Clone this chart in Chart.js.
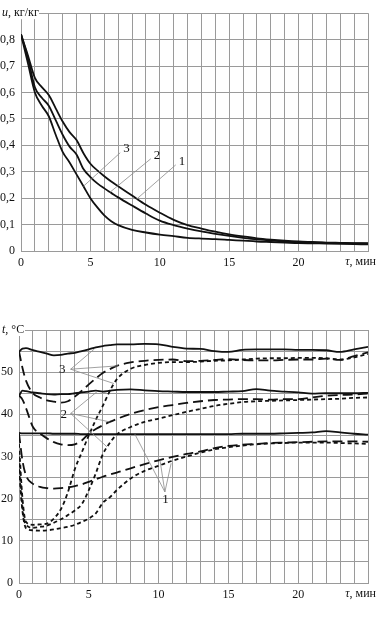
<!DOCTYPE html>
<html>
<head>
<meta charset="utf-8">
<script src="https://cdn.jsdelivr.net/npm/chart.js@4.4.1/dist/chart.umd.min.js"></script>
<style>
  body { margin: 0; background: #fff; }
  .box { position: absolute; left: 0; width: 377px; }
</style>
</head>
<body>
<div class="box" style="top:0;height:280px"><canvas id="uChart" width="377" height="280"></canvas></div>
<div class="box" style="top:300px;height:318px"><canvas id="tChart" width="377" height="318"></canvas></div>
<script>
// drying curves u(τ), кг/кг
const tauU = [0, 0.5, 1, 1.5, 2, 2.5, 3, 3.5, 4, 4.5, 5, 5.5, 6, 6.5, 7, 8, 9, 10, 11, 12, 13, 14, 15, 16, 17, 18, 19, 20, 21, 22, 23, 24, 25];
const u1 = [0.82, 0.74, 0.655, 0.62, 0.59, 0.54, 0.49, 0.45, 0.42, 0.37, 0.33, 0.305, 0.283, 0.263, 0.245, 0.21, 0.175, 0.145, 0.118, 0.098, 0.085, 0.073, 0.063, 0.055, 0.048, 0.043, 0.039, 0.036, 0.034, 0.032, 0.031, 0.03, 0.03];
const u2 = [0.82, 0.73, 0.62, 0.58, 0.55, 0.495, 0.44, 0.395, 0.365, 0.31, 0.28, 0.256, 0.237, 0.22, 0.203, 0.172, 0.142, 0.115, 0.098, 0.085, 0.074, 0.065, 0.057, 0.05, 0.044, 0.04, 0.036, 0.034, 0.032, 0.031, 0.03, 0.029, 0.028];
const u3 = [0.82, 0.71, 0.6, 0.55, 0.51, 0.44, 0.375, 0.335, 0.29, 0.245, 0.2, 0.165, 0.135, 0.113, 0.098, 0.08, 0.07, 0.062, 0.056, 0.05, 0.047, 0.045, 0.042, 0.039, 0.036, 0.034, 0.032, 0.03, 0.029, 0.028, 0.027, 0.026, 0.025];

// temperatures t(τ), °C
const tauT = [0, 0.25, 0.5, 1, 1.5, 2, 2.5, 3, 3.5, 4, 4.5, 5, 5.5, 6, 6.5, 7, 8, 9, 10, 11, 12, 13, 14, 15, 16, 17, 18, 19, 20, 21, 22, 23, 24, 25];
const s3 = [54.8, 55.6, 55.7, 55.2, 54.8, 54.4, 54.0, 54.1, 54.4, 54.6, 55.0, 55.4, 55.9, 56.2, 56.4, 56.6, 56.6, 56.7, 56.6, 56.0, 55.6, 55.5, 55.0, 54.8, 55.3, 55.4, 55.4, 55.4, 55.3, 55.3, 55.2, 54.8, 55.4, 56.0];
const s2 = [44.4, 45.6, 45.5, 45.2, 45.0, 44.8, 44.7, 44.8, 44.8, 45.0, 45.2, 45.4, 45.6, 45.4, 45.6, 45.8, 45.9, 45.7, 45.5, 45.4, 45.3, 45.3, 45.3, 45.4, 45.5, 46.0, 45.6, 45.4, 45.2, 44.9, 45.0, 45.0, 45.0, 45.1];
const s1 = [35.6, 35.5, 35.5, 35.5, 35.5, 35.5, 35.4, 35.4, 35.4, 35.4, 35.3, 35.3, 35.3, 35.3, 35.3, 35.3, 35.3, 35.3, 35.3, 35.3, 35.3, 35.3, 35.3, 35.3, 35.4, 35.4, 35.4, 35.5, 35.6, 35.7, 36.0, 35.7, 35.4, 35.2];
const ld3 = [55.0, 51.0, 48.0, 45.0, 44.0, 43.3, 43.0, 42.8, 43.1, 44.2, 45.6, 47.1, 48.5, 49.8, 50.7, 51.5, 52.3, 52.7, 52.9, 53.0, 52.6, 52.7, 52.9, 53.1, 52.9, 52.8, 52.8, 52.9, 53.0, 53.0, 53.2, 52.9, 53.8, 54.7];
const sd3 = [33, 20, 14.5, 13.8, 13.9, 14.1, 15.3, 17.5, 21.5, 27, 31, 35, 38.7, 42, 45.5, 48.3, 50.8, 51.7, 52.2, 52.4, 52.4, 52.5, 52.7, 52.8, 53.0, 53.2, 53.3, 53.3, 53.4, 53.4, 53.3, 53.0, 53.5, 54.3];
const ld2 = [44.5, 43.5, 41.5, 37.0, 35.5, 34.3, 33.4, 32.9, 32.7, 32.9, 33.8, 35.4, 36.5, 37.4, 38.2, 38.9, 40.1, 41.0, 41.7, 42.2, 42.7, 43.1, 43.4, 43.5, 43.6, 43.6, 43.5, 43.6, 43.6, 44.0, 44.4, 44.6, 44.7, 44.9];
const sd2 = [30, 18, 13.8, 13.1, 13.3, 13.6, 14.3, 15.1, 16.1, 17.2, 18.7, 22, 26, 30.5, 33.2, 35.2, 37, 38.2, 39, 39.8, 40.6, 41.3, 42.0, 42.5, 42.9, 43.1, 43.2, 43.3, 43.4, 43.5, 43.6, 43.7, 43.9, 44.0];
const ld1 = [35.5, 29, 25.5, 23.5, 22.8, 22.5, 22.4, 22.5, 22.7, 23.0, 23.4, 24.0, 24.6, 25.2, 25.7, 26.2, 27.2, 28.2, 29.1, 29.9, 30.6, 31.2, 32.0, 32.5, 32.8, 33.0, 33.2, 33.3, 33.4, 33.5, 33.6, 33.6, 33.6, 33.5];
const sd1 = [27, 17, 13, 12.5, 12.4, 12.5, 12.7, 13.0, 13.3, 13.8, 14.5, 15.3, 16.5, 19, 20.3, 22, 24.8, 26.6, 27.8, 29, 30, 30.9, 31.7, 32.2, 32.6, 32.9, 33.1, 33.2, 33.3, 33.3, 33.3, 33.2, 33.1, 33.0];

// curve numbers with leader lines (data coordinates)
const uNotes = [
    { text: '1', label: [11.6, 0.34], from: [11.15, 0.326], to: [[8.3, 0.195]] },
    { text: '2', label: [9.8, 0.363], from: [9.35, 0.349], to: [[6.4, 0.222]] },
    { text: '3', label: [7.6, 0.389], from: [7.15, 0.372], to: [[4.5, 0.245]] }
];
const tNotes = [
    { text: '3', label: [3.1, 50.7], from: [3.7, 50.7], to: [[5.4, 55.5], [7.1, 51.5], [6.8, 47.3]] },
    { text: '2', label: [3.2, 40.0], from: [3.7, 40.2], to: [[5.6, 45.4], [6.5, 38.2], [6.3, 32.3]] },
    { text: '1', label: [10.5, 19.8], from: [10.45, 21.6], to: [[8.3, 35.3], [10.1, 29.1], [10.9, 28.4]] }
];

const SERIF = '"Liberation Serif", "Times New Roman", serif';
const GRID = '#9a9a9a';

function pts(xs, ys) {
    return xs.map((x, i) => ({ x: x, y: ys[i] }));
}

function line(xs, ys, dash) {
    return {
        data: pts(xs, ys),
        borderColor: '#111',
        borderWidth: 1.8,
        borderDash: dash || [],
        pointRadius: 0,
        cubicInterpolationMode: 'monotone',
        fill: false
    };
}

// leader lines, curve numbers and axis titles
function notesPlugin(notes, yTitle, titleBox) {
    return {
        id: 'notes',
        afterDatasetsDraw(chart) {
            const ctx = chart.ctx;
            const xs = chart.scales.x, ys = chart.scales.y;
            ctx.save();
            ctx.strokeStyle = '#8a8a8a';
            ctx.lineWidth = 0.8;
            notes.forEach(n => {
                const fx = xs.getPixelForValue(n.from[0]), fy = ys.getPixelForValue(n.from[1]);
                n.to.forEach(p => {
                    ctx.beginPath();
                    ctx.moveTo(fx, fy);
                    ctx.lineTo(xs.getPixelForValue(p[0]), ys.getPixelForValue(p[1]));
                    ctx.stroke();
                });
            });
            ctx.fillStyle = '#111';
            ctx.font = '13px ' + SERIF;
            ctx.textAlign = 'center';
            ctx.textBaseline = 'middle';
            notes.forEach(n => {
                ctx.fillText(n.text, xs.getPixelForValue(n.label[0]), ys.getPixelForValue(n.label[1]));
            });
            ctx.restore();
        },
        afterDraw(chart) {
            const ctx = chart.ctx;
            const a = chart.chartArea;
            ctx.save();
            // y title sits on top of the frame
            ctx.fillStyle = '#fff';
            ctx.fillRect(0, a.top - 7, titleBox, 13);
            ctx.fillStyle = '#111';
            ctx.textBaseline = 'middle';
            ctx.textAlign = 'left';
            ctx.font = 'italic 12px ' + SERIF;
            ctx.fillText(yTitle[0], 2, a.top);
            let w = ctx.measureText(yTitle[0]).width;
            ctx.font = '12px ' + SERIF;
            ctx.fillText(yTitle[1], 2 + w, a.top);
            // x title at the right end
            const xRest = ', мин';
            const ty = a.bottom + 11;
            const wr = ctx.measureText(xRest).width;
            ctx.textAlign = 'right';
            ctx.fillText(xRest, chart.width - 1, ty);
            ctx.font = 'italic 12px ' + SERIF;
            ctx.fillText('τ', chart.width - 1 - wr, ty);
            ctx.restore();
        }
    };
}

function baseOptions(yMin, yMax, yStep, yLabel, yWidth, pad) {
    return {
        responsive: false,
        animation: false,
        devicePixelRatio: 1,
        layout: { padding: pad },
        plugins: { legend: { display: false }, tooltip: { enabled: false } },
        scales: {
            x: {
                type: 'linear',
                min: 0, max: 25,
                afterFit: s => { s.height = pad.xh; },
                grid: { color: GRID, lineWidth: 1, drawTicks: false },
                border: { color: GRID },
                ticks: {
                    stepSize: 1, autoSkip: false, maxRotation: 0, padding: 5,
                    color: '#111', font: { family: SERIF, size: 12 },
                    callback: v => (v % 5 === 0 && v < 25) ? String(v) : ''
                }
            },
            y: {
                min: yMin, max: yMax,
                afterFit: s => { s.width = yWidth; },
                grid: { color: GRID, lineWidth: 1, drawTicks: false },
                border: { color: GRID },
                ticks: {
                    stepSize: yStep, autoSkip: false, padding: 6,
                    color: '#111', font: { family: SERIF, size: 12 },
                    callback: yLabel
                }
            }
        }
    };
}

const uOpts = baseOptions(0, 0.9, 0.1, v => {
    const r = Math.round(v * 10) / 10;
    if (r > 0.85) return '';
    return r === 0 ? '0' : r.toFixed(1).replace('.', ',');
}, 21, { left: 0, right: 9, top: 6, bottom: 0, xh: 29 });

new Chart(document.getElementById('uChart'), {
    type: 'line',
    data: { datasets: [line(tauU, u1), line(tauU, u2), line(tauU, u3)] },
    options: uOpts,
    plugins: [notesPlugin(uNotes, ['u', ', кг/кг'], 39)]
});

const tOpts = baseOptions(0, 60, 5, v => (v % 10 === 0 && v < 60) ? String(v) : '',
    19, { left: 0, right: 9, top: 30, bottom: 0, xh: 35 });

const LONG = [10, 5], SHORT = [4, 3];
new Chart(document.getElementById('tChart'), {
    type: 'line',
    data: {
        datasets: [
            line(tauT, s3), line(tauT, s2), line(tauT, s1),
            line(tauT, ld3, LONG), line(tauT, ld2, LONG), line(tauT, ld1, LONG),
            line(tauT, sd3, SHORT), line(tauT, sd2, SHORT), line(tauT, sd1, SHORT)
        ]
    },
    options: tOpts,
    plugins: [notesPlugin(tNotes, ['t', ', °C'], 25)]
});
</script>
</body>
</html>
